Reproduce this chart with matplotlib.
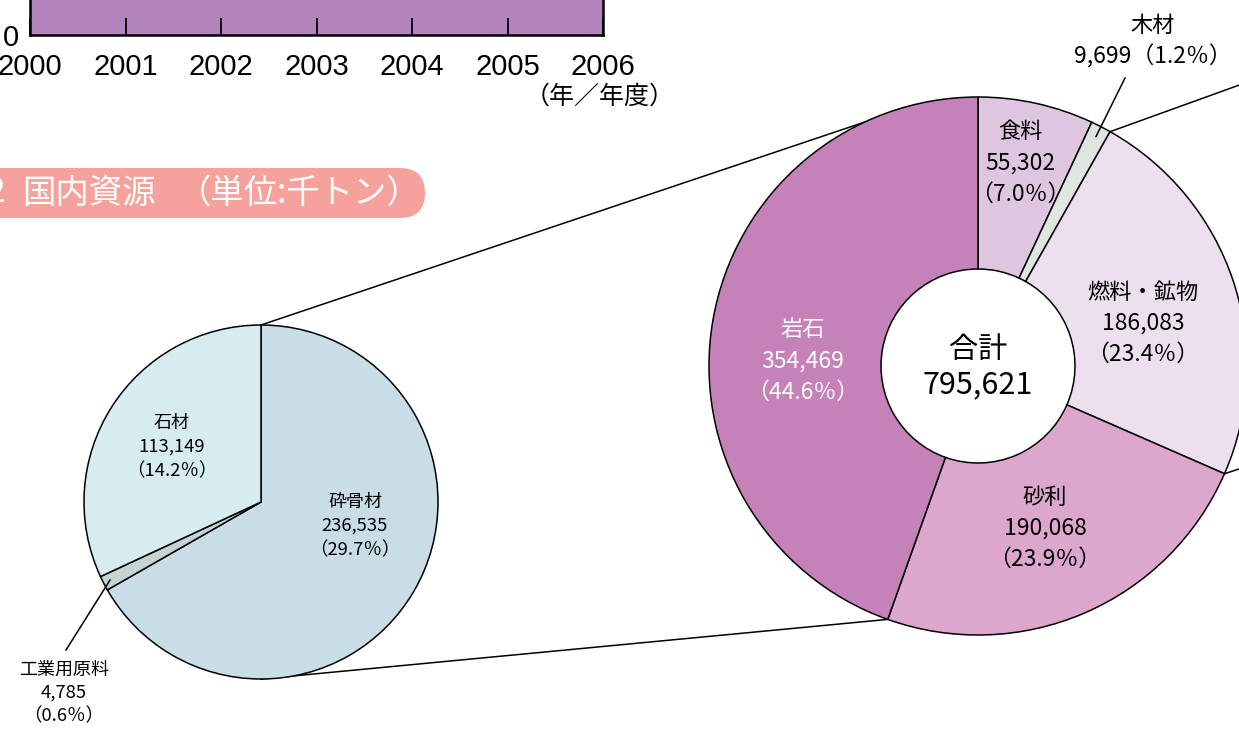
"""
Domestic resources breakdown (unit: kt) - bar strip, rock pie and total donut
"""
import numpy as np
import matplotlib.pyplot as plt
from matplotlib.patches import FancyBboxPatch

plt.rcParams['font.family'] = ['Noto Sans CJK JP', 'DejaVu Sans']

W, H = 1239, 730

# Data
years = [2000, 2001, 2002, 2003, 2004, 2005, 2006]
domestic_total = [1125000, 1078000, 1003000, 959000, 917000, 871000, 795621]  # upper part is cropped

donut_names = ['食料', '木材', '燃料・鉱物', '砂利', '岩石']
donut_values = [55302, 9699, 186083, 190068, 354469]
donut_pcts = ['7.0', '1.2', '23.4', '23.9', '44.6']
donut_total = 795621

rock_names = ['砕骨材', '工業用原料', '石材']
rock_values = [236535, 4785, 113149]
rock_pcts = ['29.7', '0.6', '14.2']

# Styles
DONUT_COLORS = ['#dfc6e0', '#dfe6df', '#ecdfee', '#dca6cd', '#c482b8']
ROCK_COLORS = ['#c9dde6', '#c5d4d2', '#d6ecef']
BAR_COLOR = '#b383bb'
TITLE_COLOR = '#f5a19c'

# Layout (data coords of the main axes = pixels, y up)
LEFT_C, LEFT_R = (261, 228), 177
RIGHT_C, RIGHT_R, HOLE_R = (978, 364), 269, 97


def polar(c, r, deg):
    a = np.deg2rad(deg)
    return c[0] + r * np.cos(a), c[1] + r * np.sin(a)


def boundaries(values):
    cum = np.cumsum([0] + list(values)) / sum(values)
    return 90 - 360 * cum


def stack_text(ax, x, y_mid, lines, sizes, spacing, color='black'):
    n = len(lines)
    for i, (s, fs) in enumerate(zip(lines, sizes)):
        y = y_mid + (n - 1) / 2 * spacing - i * spacing
        ax.text(x, y, s, fontsize=fs, color=color, ha='center', va='center')


fig = plt.figure(figsize=(W / 100, H / 100), dpi=100)
ax = fig.add_axes([0, 0, 1, 1])

# Left pie: breakdown of rock
ax.pie(rock_values, colors=ROCK_COLORS, startangle=90, counterclock=False,
       center=LEFT_C, radius=LEFT_R,
       wedgeprops=dict(edgecolor='black', linewidth=1.1))

# Right donut: total domestic resources
ax.pie(donut_values, colors=DONUT_COLORS, startangle=90, counterclock=False,
       center=RIGHT_C, radius=RIGHT_R,
       wedgeprops=dict(width=RIGHT_R - HOLE_R, edgecolor='black', linewidth=1.1))

ax.set_xlim(0, W)
ax.set_ylim(0, H)
ax.set_aspect('equal')
ax.axis('off')

# Connector lines between the two pies
d_ang = boundaries(donut_values)
r_ang = boundaries(rock_values)
top_end = polar(RIGHT_C, RIGHT_R, 115)
bot_end = polar(RIGHT_C, RIGHT_R, d_ang[4])
ax.plot([LEFT_C[0], top_end[0]], [LEFT_C[1] + LEFT_R, top_end[1]],
        color='black', lw=1.1, zorder=0)
ax.plot([LEFT_C[0], bot_end[0]], [LEFT_C[1] - LEFT_R, bot_end[1]],
        color='black', lw=1.1, zorder=0)

# lines to the next (cropped) chart on the right
next_top, next_bot = (1450, 721), (1450, 330)
p1 = polar(RIGHT_C, RIGHT_R, d_ang[2])
p2 = polar(RIGHT_C, RIGHT_R, d_ang[3])
ax.plot([p1[0], next_top[0]], [p1[1], next_top[1]], color='black', lw=1.1, zorder=0)
ax.plot([p2[0], next_bot[0]], [p2[1], next_bot[1]], color='black', lw=1.1, zorder=0)

# Donut labels
fmt = lambda v: f'{v:,}'
DONUT_POS = {0: (1020, 567), 2: (1143, 407), 3: (1045, 202), 4: (803, 369)}
for i, (x, y) in DONUT_POS.items():
    stack_text(ax, x, y, [donut_names[i], fmt(donut_values[i]), f'（{donut_pcts[i]}％）'],
               [16, 16.5, 16.5], 31, color='white' if i == 4 else 'black')

# 木材 label with leader
stack_text(ax, 1153, 689, [donut_names[1], f'{fmt(donut_values[1])}（{donut_pcts[1]}％）'],
           [16, 16.5], 31)
mid_wood = (d_ang[1] + d_ang[2]) / 2
lead = polar(RIGHT_C, 258, mid_wood)
ax.plot([lead[0], 1125], [lead[1], H - 78], color='black', lw=1.1)

# Center total
ax.text(RIGHT_C[0], 380, '合計', fontsize=21, ha='center', va='center')
ax.text(RIGHT_C[0], 345, fmt(donut_total), fontsize=22, ha='center', va='center')

# Rock pie labels
ROCK_POS = {0: (355, 204), 2: (172, 283)}
for i, (x, y) in ROCK_POS.items():
    stack_text(ax, x, y, [rock_names[i], fmt(rock_values[i]), f'（{rock_pcts[i]}％）'],
               [13, 13.3, 13.3], 24)
stack_text(ax, 64, 37, [rock_names[1], fmt(rock_values[1]), f'（{rock_pcts[1]}％）'],
           [13, 13.3, 13.3], 23)
mid_ind = (r_ang[1] + r_ang[2]) / 2
lead = polar(LEFT_C, 170, mid_ind)
ax.plot([lead[0], 66], [lead[1], H - 650], color='black', lw=1.1)

# Section title
ax.add_patch(FancyBboxPatch((-40, H - 218), 465, 50,
                            boxstyle='round,pad=0,rounding_size=25',
                            facecolor=TITLE_COLOR, edgecolor='none'))
ax.text(5, H - 193, '2', fontsize=24, color='white', ha='right', va='center')
ax.text(22, H - 193, '国内資源', fontsize=24, color='white', ha='left', va='center')
ax.text(178, H - 193, '（単位:千トン）', fontsize=24, color='white',
        ha='left', va='center')

# Year strip (bottom of the cropped area chart above)
axb = fig.add_axes([30 / W, (H - 35) / H, 573 / W, 276 / H])
axb.fill_between(years, 0, domestic_total, color=BAR_COLOR, lw=0)
axb.set_xlim(2000, 2006)
axb.set_ylim(0, 1200000)
axb.set_xticks(years)
axb.set_xticklabels([str(y) for y in years])
axb.set_yticks([0])
axb.set_yticklabels(['0'])
axb.tick_params(axis='x', direction='in', length=12, width=1.3, pad=13,
                labelsize=21, colors='black')
axb.tick_params(axis='y', direction='in', length=0, pad=8, labelsize=21)
for lab in axb.get_xticklabels() + axb.get_yticklabels():
    lab.set_family(['Liberation Sans Narrow', 'Liberation Sans'])
axb.spines['top'].set_visible(False)
for s in ['left', 'right', 'bottom']:
    axb.spines[s].set_linewidth(1.8)
axb.set_facecolor('white')

ax.text(600, H - 97, '（年／年度）', fontsize=18, ha='center', va='center')

fig.savefig('out.png', dpi=100)
